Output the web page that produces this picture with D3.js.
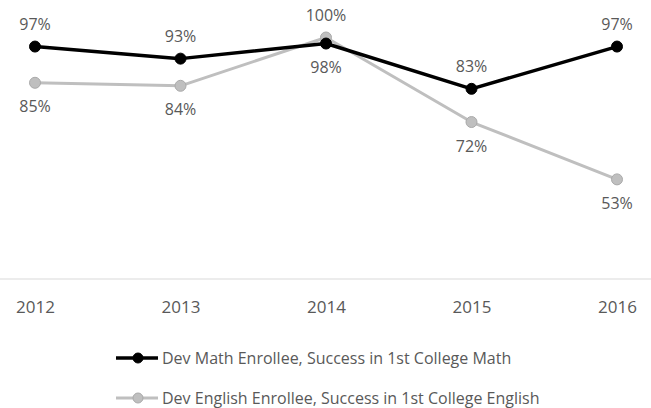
<!DOCTYPE html>
<html>
<head>
<meta charset="utf-8">
<script src="https://cdn.jsdelivr.net/npm/d3@7"></script>
<style>
  body { margin: 0; background: #fff; }
  text { font-family: "Open Sans", "Noto Sans", sans-serif; fill: #595959; }
</style>
</head>
<body>
<svg class="chart"></svg>
<script>
// data
var years = ["2012", "2013", "2014", "2015", "2016"];
var mathValues = [97, 93, 98, 83, 97];
var englishValues = [85, 84, 100, 72, 53];
// label side per point: -1 above, 1 below
var mathLabelSide = [-1, -1, 1, -1, -1];
var englishLabelSide = [1, 1, -1, 1, 1];
var seriesNames = [
    "Dev Math Enrollee, Success in 1st College Math",
    "Dev English Enrollee, Success in 1st College English"
];

var width = 651,
    height = 408,
    baseline = 279;

var svg = d3.select('.chart')
    .attr('width', width)
    .attr('height', height);

var xScale = d3.scalePoint()
    .domain(years)
    .range([35, 617]);

var yScale = d3.scaleLinear()
    .domain([20, 100])
    .range([baseline, 37.5]);

var series = [
    { name: seriesNames[0], values: mathValues, sides: mathLabelSide, stroke: '#000000', ring: '#000000', width: 3.5 },
    { name: seriesNames[1], values: englishValues, sides: englishLabelSide, stroke: '#bfbfbf', ring: '#aaaaaa', width: 3 }
];

// axis line + year labels
var xAxis = d3.axisBottom(xScale).tickSize(0).tickPadding(22);
var axisG = svg.append('g')
    .attr('transform', 'translate(0,' + baseline + ')')
    .call(xAxis);
axisG.select('.domain').remove();
axisG.append('line')
    .attr('x1', 0).attr('x2', width)
    .attr('stroke', '#d9d9d9').attr('stroke-width', 1);
axisG.selectAll('.tick text')
    .style('font-size', '17px')
    .attr('fill', '#595959');

var line = d3.line()
    .x(function(d, i) { return xScale(years[i]); })
    .y(function(d) { return yScale(d); });

// english first, math on top
series.slice().reverse().forEach(function(s) {
    var g = svg.append('g');
    g.append('path')
        .datum(s.values)
        .attr('d', line)
        .attr('fill', 'none')
        .attr('stroke', s.stroke)
        .attr('stroke-width', s.width)
        .attr('stroke-linejoin', 'round');
    g.selectAll('circle')
        .data(s.values)
        .enter().append('circle')
        .attr('cx', function(d, i) { return xScale(years[i]); })
        .attr('cy', function(d) { return yScale(d); })
        .attr('r', 5.5)
        .attr('fill', s.stroke)
        .attr('stroke', s.ring)
        .attr('stroke-width', 1);
    g.selectAll('text.lbl')
        .data(s.values)
        .enter().append('text')
        .attr('class', 'lbl')
        .attr('x', function(d, i) { return xScale(years[i]); })
        .attr('y', function(d, i) { return yScale(d) + (s.sides[i] < 0 ? -22 : 24); })
        .attr('dy', '.35em')
        .attr('text-anchor', 'middle')
        .style('font-size', '16px')
        .text(function(d) { return d + '%'; });
});

// legend
var legend = svg.selectAll('.legend')
    .data(series)
    .enter().append('g')
    .attr('class', 'legend')
    .attr('transform', function(d, i) { return 'translate(116,' + (358 + i * 40) + ')'; });

legend.append('line')
    .attr('x1', 0).attr('x2', 42)
    .attr('stroke', function(d) { return d.stroke; })
    .attr('stroke-width', function(d) { return d.width; });
legend.append('circle')
    .attr('cx', 22)
    .attr('r', 5)
    .attr('fill', function(d) { return d.stroke; })
    .attr('stroke', function(d) { return d.ring; });
legend.append('text')
    .attr('x', 46)
    .attr('dy', '.35em')
    .style('font-size', '16px')
    .text(function(d) { return d.name; });
</script>
</body>
</html>
